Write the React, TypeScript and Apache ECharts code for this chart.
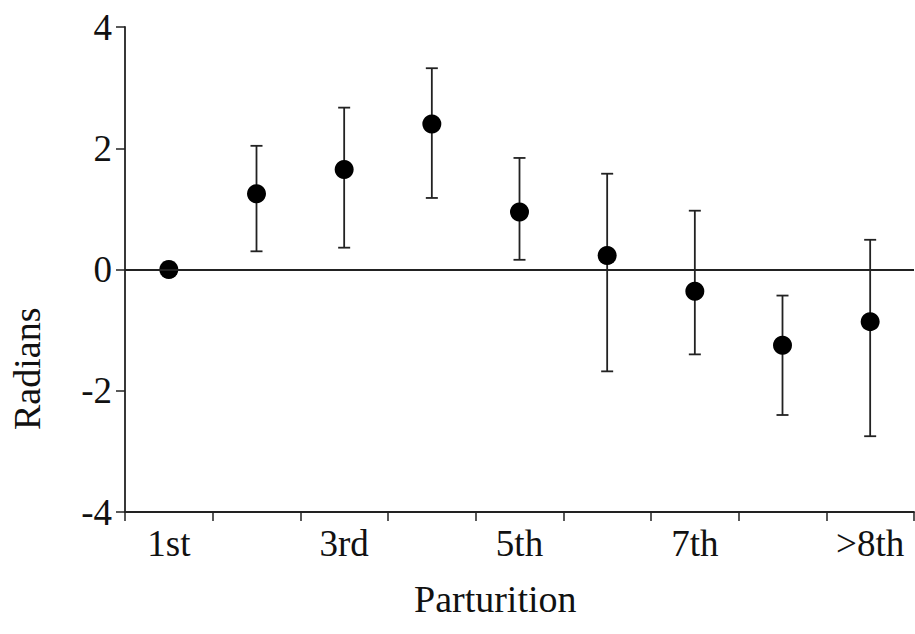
import React, { useEffect, useRef } from "react";
import * as echarts from "echarts";

const categories = ["1st", "2nd", "3rd", "4th", "5th", "6th", "7th", "8th", ">8th"];
const means = [0, 1.25, 1.65, 2.4, 0.95, 0.23, -0.36, -1.25, -0.86];
const lower = [0, 0.3, 0.36, 1.18, 0.16, -1.68, -1.4, -2.4, -2.75];
const upper = [0, 2.04, 2.67, 3.32, 1.84, 1.58, 0.97, -0.43, 0.49];
const yTicks = [-4, -2, 0, 2, 4];

const FONT = "Liberation Serif";

export default function App() {
  const ref = useRef<HTMLDivElement>(null);
  useEffect(() => {
    if (!ref.current) return;
    const chart = echarts.init(ref.current, null, { renderer: "svg" });
    const errData = categories.map((c, i) => [i, lower[i], upper[i]]);
    chart.setOption({
      animation: false,
      backgroundColor: "#fff",
      grid: { left: 125, right: 1, top: 27, bottom: 122, containLabel: false },
      xAxis: {
        type: "category",
        data: categories,
        boundaryGap: true,
        axisLine: { onZero: false, lineStyle: { color: "#222", width: 1.8 } },
        axisTick: { show: true, alignWithLabel: false, length: 9, interval: 0, lineStyle: { color: "#222", width: 1.5 } },
        axisLabel: {
          interval: 1,
          color: "#111",
          fontFamily: FONT,
          fontSize: 37,
          margin: 13,
        },
        splitLine: { show: false },
      },
      yAxis: {
        type: "value",
        min: yTicks[0],
        max: yTicks[yTicks.length - 1],
        interval: 2,
        axisLine: { show: true, lineStyle: { color: "#222", width: 1.8 } },
        axisTick: { show: true, length: 9, lineStyle: { color: "#222", width: 1.5 } },
        axisLabel: { color: "#111", fontFamily: FONT, fontSize: 37, margin: 13 },
        splitLine: { show: false },
      },
      graphic: [
        {
          type: "text",
          left: 414,
          top: 580,
          style: { text: "Parturition", fontFamily: FONT, fontSize: 38, fill: "#111" },
        },
        {
          type: "text",
          x: 8,
          y: 430,
          rotation: Math.PI / 2,
          style: { text: "Radians", fontFamily: FONT, fontSize: 38, fill: "#111", verticalAlign: "top" },
        },
      ],
      series: [
        {
          type: "custom",
          data: errData,
          renderItem: (params: any, api: any) => {
            const i = api.value(0);
            const lo = api.value(1);
            const hi = api.value(2);
            if (lo === hi) return null;
            const p1 = api.coord([i, lo]);
            const p2 = api.coord([i, hi]);
            const w = 6;
            const style = { stroke: "#222", lineWidth: 1.8 };
            return {
              type: "group",
              children: [
                { type: "line", shape: { x1: p1[0], y1: p1[1], x2: p2[0], y2: p2[1] }, style },
                { type: "line", shape: { x1: p1[0] - w, y1: p1[1], x2: p1[0] + w, y2: p1[1] }, style },
                { type: "line", shape: { x1: p2[0] - w, y1: p2[1], x2: p2[0] + w, y2: p2[1] }, style },
              ],
            };
          },
          z: 2,
        },
        {
          type: "scatter",
          data: means,
          symbol: "circle",
          symbolSize: 19,
          itemStyle: { color: "#000", opacity: 1 },
          z: 3,
          markLine: {
            silent: true,
            symbol: ["none", "none"],
            label: { show: false },
            lineStyle: { color: "#222", width: 1.8, type: "solid" },
            data: [{ yAxis: 0 }],
          },
        },
      ],
    });
    return () => chart.dispose();
  }, []);
  return <div ref={ref} style={{ width: 915, height: 634, position: "absolute", left: 0, top: 0 }} />;
}
